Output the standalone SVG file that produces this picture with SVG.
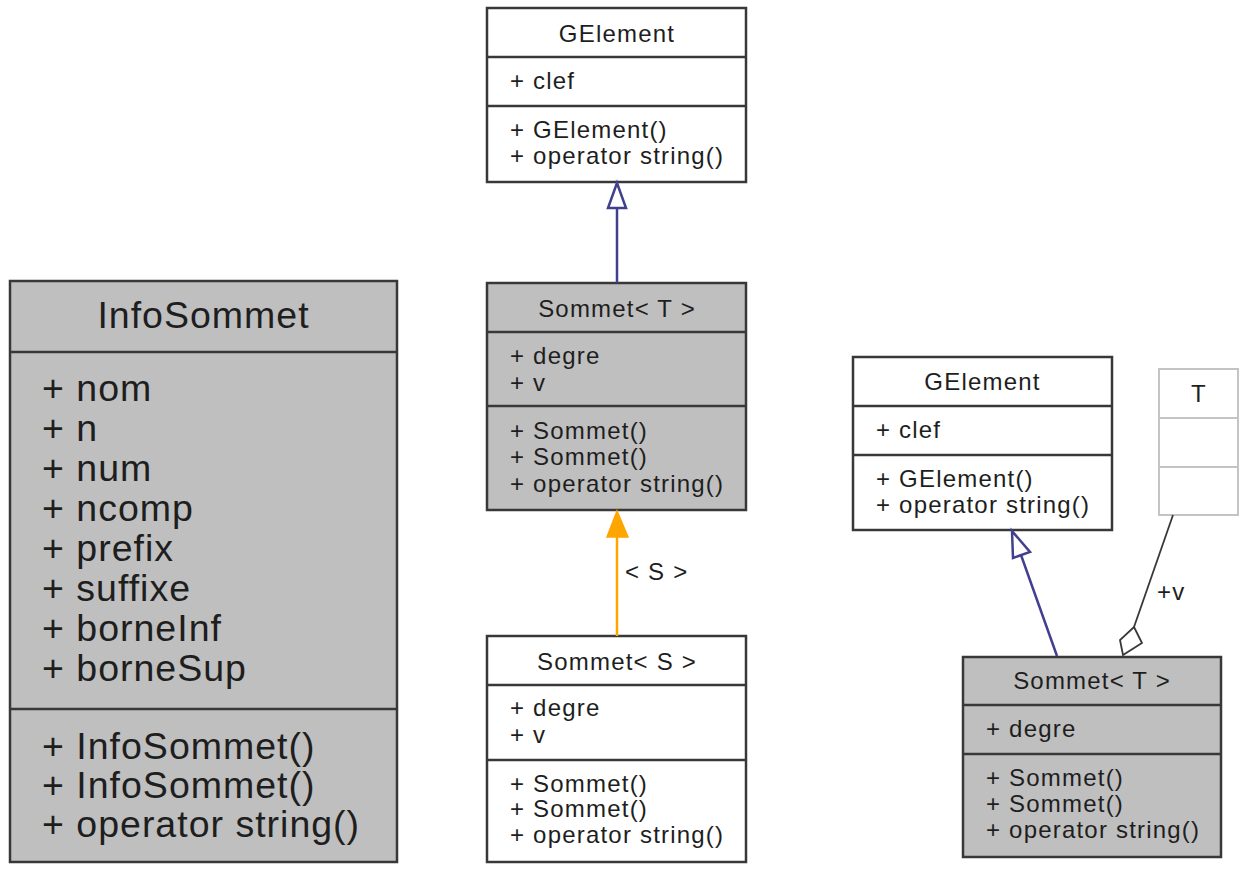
<svg xmlns="http://www.w3.org/2000/svg" width="1248" height="870" viewBox="0 0 1248 870">
<style>
.box{stroke:#383838;stroke-width:2.5}
.w{fill:#ffffff}
.g{fill:#bfbfbf}
.div{stroke:#383838;stroke-width:2.5}
.t{font-family:"Liberation Sans",Arial,sans-serif;font-size:24px;letter-spacing:1.2px;fill:#1e1e1e}
.big{font-family:"Liberation Sans",Arial,sans-serif;font-size:37.5px;letter-spacing:1px;fill:#1e1e1e}
.c{text-anchor:middle}
.inh{stroke:#40408f;stroke-width:2.5;fill:none}
.inhHead{stroke:#40408f;stroke-width:2.5;fill:#ffffff}
.tpl{stroke:#ffa500;stroke-width:2.5;fill:none}
.agg{stroke:#383838;stroke-width:1.8;fill:none}
</style>
<rect width="1248" height="870" fill="#ffffff"/>

<g id="InfoSommet">
<rect class="box g" x="10" y="281" width="387" height="581"/>
<line class="div" x1="10" y1="352" x2="397" y2="352"/>
<line class="div" x1="10" y1="709" x2="397" y2="709"/>
<text class="big c" x="203.5" y="328">InfoSommet</text>
<text class="big" x="42" y="401">+ nom</text>
<text class="big" x="42" y="441">+ n</text>
<text class="big" x="42" y="481">+ num</text>
<text class="big" x="42" y="521">+ ncomp</text>
<text class="big" x="42" y="561">+ prefix</text>
<text class="big" x="42" y="601">+ suffixe</text>
<text class="big" x="42" y="641">+ borneInf</text>
<text class="big" x="42" y="681">+ borneSup</text>
<text class="big" x="42" y="759">+ InfoSommet()</text>
<text class="big" x="42" y="798">+ InfoSommet()</text>
<text class="big" x="42" y="837">+ operator string()</text>
</g>

<g id="GElement1">
<rect class="box w" x="487" y="8" width="259" height="174"/>
<line class="div" x1="487" y1="57" x2="746" y2="57"/>
<line class="div" x1="487" y1="106" x2="746" y2="106"/>
<text class="t c" x="617" y="42">GElement</text>
<text class="t" x="510" y="89">+ clef</text>
<text class="t" x="510" y="138">+ GElement()</text>
<text class="t" x="510" y="164">+ operator string()</text>
</g>

<g id="SommetT1">
<rect class="box g" x="487" y="283" width="259" height="227"/>
<line class="div" x1="487" y1="332" x2="746" y2="332"/>
<line class="div" x1="487" y1="406" x2="746" y2="406"/>
<text class="t c" x="617" y="317">Sommet&lt; T &gt;</text>
<text class="t" x="510" y="364">+ degre</text>
<text class="t" x="510" y="391">+ v</text>
<text class="t" x="510" y="439">+ Sommet()</text>
<text class="t" x="510" y="465">+ Sommet()</text>
<text class="t" x="510" y="492">+ operator string()</text>
</g>

<g id="SommetS">
<rect class="box w" x="487" y="636" width="259" height="226"/>
<line class="div" x1="487" y1="685" x2="746" y2="685"/>
<line class="div" x1="487" y1="760" x2="746" y2="760"/>
<text class="t c" x="617" y="670">Sommet&lt; S &gt;</text>
<text class="t" x="510" y="716">+ degre</text>
<text class="t" x="510" y="743">+ v</text>
<text class="t" x="510" y="792">+ Sommet()</text>
<text class="t" x="510" y="817">+ Sommet()</text>
<text class="t" x="510" y="843">+ operator string()</text>
</g>

<g id="GElement2">
<rect class="box w" x="853" y="357" width="259" height="173"/>
<line class="div" x1="853" y1="406" x2="1112" y2="406"/>
<line class="div" x1="853" y1="455" x2="1112" y2="455"/>
<text class="t c" x="982.5" y="390">GElement</text>
<text class="t" x="876" y="438">+ clef</text>
<text class="t" x="876" y="487">+ GElement()</text>
<text class="t" x="876" y="513">+ operator string()</text>
</g>

<g id="T">
<rect x="1159" y="369" width="79" height="146" fill="#ffffff" stroke="#c4c4c4" stroke-width="2"/>
<line x1="1159" y1="418" x2="1238" y2="418" stroke="#c4c4c4" stroke-width="2"/>
<line x1="1159" y1="467" x2="1238" y2="467" stroke="#c4c4c4" stroke-width="2"/>
<text class="t c" x="1199" y="402">T</text>
</g>

<g id="SommetT2">
<rect class="box g" x="963" y="657" width="258" height="200"/>
<line class="div" x1="963" y1="705" x2="1221" y2="705"/>
<line class="div" x1="963" y1="754" x2="1221" y2="754"/>
<text class="t c" x="1092" y="689">Sommet&lt; T &gt;</text>
<text class="t" x="986" y="737">+ degre</text>
<text class="t" x="986" y="786">+ Sommet()</text>
<text class="t" x="986" y="812">+ Sommet()</text>
<text class="t" x="986" y="838">+ operator string()</text>
</g>

<g id="connectors">
<line class="inh" x1="617" y1="283" x2="617" y2="208"/>
<polygon class="inhHead" points="617,183 608,208 626,208"/>
<line class="tpl" x1="617" y1="636" x2="617" y2="536"/>
<polygon points="617,511 607,537 628,537" fill="#ffa500" stroke="#ffa500" stroke-width="1.5"/>
<text class="t" x="625" y="580">&lt; S &gt;</text>
<line class="inh" x1="1057" y1="656" x2="1021" y2="555"/>
<polygon class="inhHead" points="1012,531 1030,552 1013,558"/>
<line class="agg" x1="1173" y1="515" x2="1134" y2="627"/>
<polygon points="1123,655 1120,640 1134,627 1142,643" fill="#ffffff" stroke="#383838" stroke-width="1.8"/>
<text class="t" x="1157" y="600">+v</text>
</g>
</svg>
